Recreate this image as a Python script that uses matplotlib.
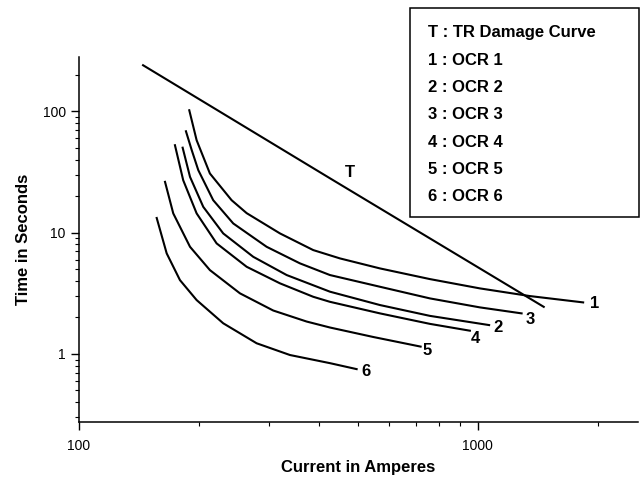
import matplotlib
matplotlib.use('Agg')
import matplotlib.pyplot as plt
from matplotlib.patches import Rectangle

plt.rcParams['font.family'] = ['Liberation Sans', 'DejaVu Sans']

# TR damage curve (current in A, time in s)
t_current = [144, 426, 1470]
t_time = [242, 28.0, 2.42]

# OCR curves
ocr_current = {
    '1': [189, 197.2, 212.9, 241.3, 263.2, 319, 386.5, 451, 568.1, 758.1, 1011.6, 1350, 1836],
    '2': [181.9, 189.8, 204.9, 229.9, 273.4, 331.6, 425.7, 568.1, 758.1, 1067],
    '3': [185.4, 191.7, 199.1, 217, 243.6, 295.4, 358, 425.7, 568.1, 758.1, 1011.6, 1287],
    '4': [174, 182.5, 197.2, 221.3, 263.2, 319, 386.5, 425.7, 568.1, 758.1, 954.8],
    '5': [164.3, 172.3, 189.8, 212.9, 253.2, 306.9, 372.1, 425.7, 546.6, 718.5],
    '6': [156.6, 165.9, 179.1, 197.2, 229.9, 278.8, 338, 425.7, 496.6],
}
ocr_time = {
    '1': [101.9, 57.7, 30.7, 18.5, 14.47, 9.85, 7.18, 6.13, 5.07, 4.14, 3.47, 3.00, 2.66],
    '2': [50.1, 28.8, 16.3, 9.85, 6.32, 4.47, 3.26, 2.53, 2.06, 1.73],
    '3': [68.4, 47.8, 32.7, 18.5, 11.9, 7.64, 5.58, 4.47, 3.58, 2.87, 2.42, 2.16],
    '4': [52.5, 27.0, 14.4, 8.15, 5.23, 3.82, 2.96, 2.69, 2.16, 1.77, 1.555],
    '5': [26.2, 14.4, 7.64, 4.91, 3.16, 2.28, 1.85, 1.652, 1.38, 1.15],
    '6': [13.2, 6.74, 4.06, 2.78, 1.79, 1.225, 0.98, 0.84, 0.75],
}

# where the curve numbers sit
label_names = ['1', '3', '2', '4', '5', '6', 'T']
label_x = [1964, 1350, 1122, 987, 745, 524, 478]
label_y = [2.63, 1.94, 1.64, 1.33, 1.065, 0.715, 31.5]

legend_lines = ['T : TR Damage Curve', '1 : OCR 1', '2 : OCR 2', '3 : OCR 3',
                '4 : OCR 4', '5 : OCR 5', '6 : OCR 6']

W, H = 641, 479
fig = plt.figure(figsize=(W / 100, H / 100), dpi=100)
ax = fig.add_axes([79 / W, 1 - 422 / H, 559 / W, 365 / H])

ax.plot(t_current, t_time, color='black', lw=1.5, solid_capstyle='butt')
for k in ocr_current:
    ax.plot(ocr_current[k], ocr_time[k], color='black', lw=1.5,
            solid_joinstyle='round')

for name, x, y in zip(label_names, label_x, label_y):
    ax.text(x, y, name, ha='center', va='center', fontsize=12, fontweight='bold')

ax.set_xscale('log')
ax.set_yscale('log')
ax.set_xlim(100, 2520)
ax.set_ylim(0.275, 280)

for s in ['top', 'right']:
    ax.spines[s].set_visible(False)
for s in ['left', 'bottom']:
    ax.spines[s].set_linewidth(1.1)

ax.set_xticks([100, 1000])
ax.set_xticklabels(['100', '1000'])
ax.set_yticks([1, 10, 100])
ax.set_yticklabels(['1', '10', '100'])
ax.tick_params(which='major', direction='out', length=5.5, width=1, labelsize=10)
ax.tick_params(which='minor', direction='out', length=3, width=0.8)
ax.tick_params(axis='x', which='major', pad=7)
ax.tick_params(axis='y', which='major', pad=4)

ax.set_xlabel('Current in Amperes', fontsize=12, fontweight='bold')
ax.set_ylabel('Time in Seconds', fontsize=12, fontweight='bold')
ax.xaxis.set_label_coords(0.5, -0.105)
ax.yaxis.set_label_coords(-0.085, 0.5)

# legend box drawn by hand, sits above the axes
fig.patches.append(Rectangle((410 / W, 1 - 217 / H), 229 / W, 209 / H,
                             transform=fig.transFigure, fill=False,
                             edgecolor='black', lw=1.1))
for i, line in enumerate(legend_lines):
    fig.text(428 / W, 1 - (33 + 27.3 * i) / H, line, ha='left', va='center',
             fontsize=12, fontweight='bold')

fig.savefig('out.png', dpi=100)
